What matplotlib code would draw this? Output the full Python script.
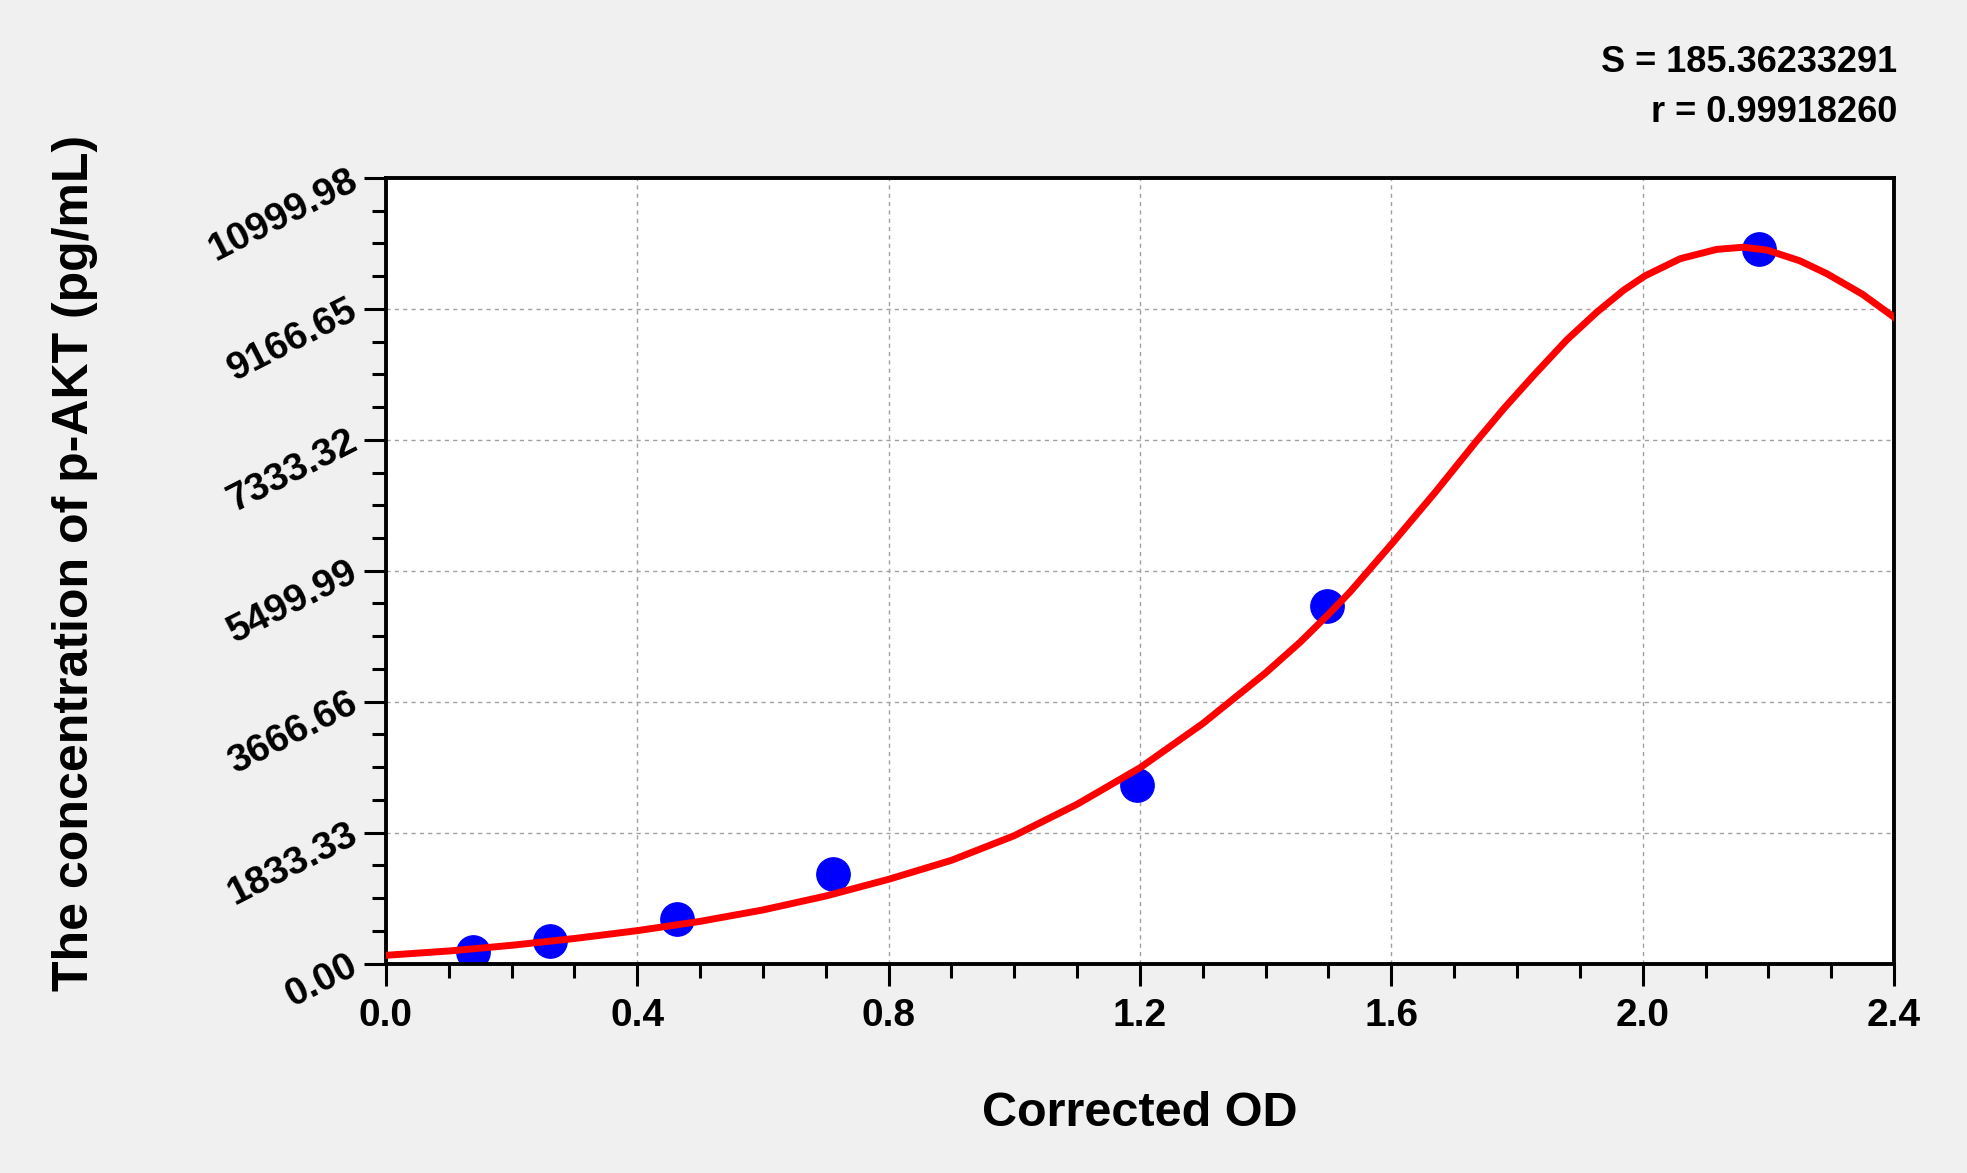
import matplotlib
matplotlib.use("Agg")
import matplotlib.pyplot as plt
from matplotlib.ticker import AutoMinorLocator

plt.rcParams['font.family'] = ['Liberation Sans', 'DejaVu Sans']
plt.rcParams['font.weight'] = 'bold'

# standards (corrected OD vs concentration)
std_od = [0.139, 0.261, 0.463, 0.711, 1.196, 1.498, 2.185]
std_conc = [156.25, 312.5, 625, 1250, 2500, 5000, 10000]

# fitted curve
curve_od = [0.00, 0.10, 0.20, 0.30, 0.40, 0.50, 0.60, 0.70, 0.80, 0.90,
            1.00, 1.10, 1.20, 1.30, 1.40, 1.455, 1.50, 1.534, 1.603, 1.67,
            1.736, 1.78, 1.826, 1.879, 1.927, 1.97, 2.004, 2.06, 2.118, 2.16,
            2.198, 2.25, 2.293, 2.35, 2.40]
curve_conc = [115, 175, 255, 350, 460, 590, 750, 945, 1179, 1445,
              1790, 2230, 2740, 3360, 4070, 4500, 4890, 5200, 5900, 6600,
              7320, 7780, 8230, 8730, 9120, 9430, 9630, 9870, 10000, 10030,
              9990, 9840, 9660, 9370, 9050]

y_ticks = [0.00, 1833.33, 3666.66, 5499.99, 7333.32, 9166.65, 10999.98]
x_ticks = [0.0, 0.4, 0.8, 1.2, 1.6, 2.0, 2.4]
fit_text = ["S = 185.36233291", "r = 0.99918260"]

fig = plt.figure(figsize=(19.67, 11.73), dpi=100, facecolor='#f0f0f0')
ax_left, ax_right = 0.1962, 0.9629
ax = fig.add_axes([ax_left, 0.1786, ax_right - ax_left, 0.8483 - 0.1786])
ax.set_facecolor('white')

ax.plot(std_od, std_conc, 'o', color='#0000ff', markersize=24, zorder=2)
ax.plot(curve_od, curve_conc, '-', color='#ff0000', linewidth=5, zorder=3,
        solid_joinstyle='round')

ax.set_xlim(0, 2.4)
ax.set_ylim(0, 10999.98)
ax.set_xticks(x_ticks)
ax.set_xticklabels([f"{v:.1f}" for v in x_ticks])
ax.set_yticks(y_ticks)
ax.set_yticklabels([f"{v:.2f}" for v in y_ticks])
ax.xaxis.set_minor_locator(AutoMinorLocator(4))
ax.yaxis.set_minor_locator(AutoMinorLocator(4))

ax.tick_params(which='major', length=16, width=2.2, direction='out',
               labelsize=28, color='black')
ax.tick_params(which='minor', length=10, width=2.2, direction='out', color='black')
ax.tick_params(axis='x', which='major', pad=9)
ax.tick_params(axis='y', which='major', pad=6)
for lab in ax.get_yticklabels():
    lab.set_rotation(27)
    lab.set_ha('right')
    lab.set_va('center')
    lab.set_rotation_mode('anchor')
    lab.set_fontweight('bold')
for lab in ax.get_xticklabels():
    lab.set_fontweight('bold')

for sp in ax.spines.values():
    sp.set_linewidth(2.8)
    sp.set_color('black')

ax.grid(True, which='major', linestyle=(0, (3, 3)), color='#a0a0a0', linewidth=1)
ax.set_axisbelow(True)

fig.text((ax_left + ax_right) / 2, 1 - 1113 / 1173, "Corrected OD", ha='center',
         va='center', fontsize=35, fontweight='bold')
fig.text(75 / 1967, 0.5 + 0.02, "The concentration of p-AKT (pg/mL)", rotation=90,
         ha='center', va='center', fontsize=36, fontweight='bold')

fig.text(0.9644, 1 - 63 / 1173, fit_text[0], ha='right', va='center',
         fontsize=26, fontweight='bold')
fig.text(0.9644, 1 - 112 / 1173, fit_text[1], ha='right', va='center',
         fontsize=26, fontweight='bold')

fig.savefig("out.png", dpi=100, facecolor=fig.get_facecolor())
